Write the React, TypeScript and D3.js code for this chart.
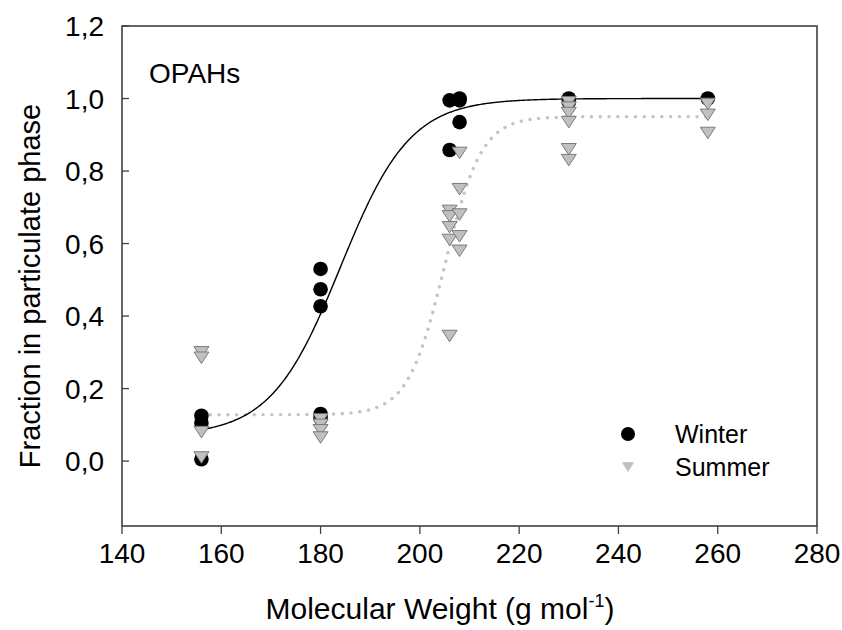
import React from "react";
import * as d3 from "d3";

const winterX = [156, 156, 156, 180, 180, 180, 180, 180, 206, 206, 208, 208, 208, 230, 230, 258];
const winterY = [0.125, 0.105, 0.005, 0.53, 0.474, 0.427, 0.13, 0.118, 0.995, 0.858, 1.0, 0.995, 0.935, 1.0, 0.99, 1.0];

const summerX = [156, 156, 156, 156, 180, 180, 180, 180, 206, 206, 206, 206, 206, 208, 208, 208, 208, 208, 230, 230, 230, 230, 230, 230, 258, 258, 258];
const summerY = [0.3, 0.285, 0.08, 0.01, 0.115, 0.1, 0.085, 0.065, 0.69, 0.675, 0.645, 0.61, 0.345, 0.85, 0.75, 0.68, 0.62, 0.58, 0.99, 0.975, 0.96, 0.935, 0.86, 0.83, 0.985, 0.955, 0.905];

// sigmoid fit parameters: [y0, a, x0, b]
const winterFit = [0.07, 0.93, 184, 7];
const summerFit = [0.128, 0.822, 205, 3.7];
const fitRange = [156, 258];

const xTicks = [140, 160, 180, 200, 220, 240, 260, 280];
const yTicks = [0, 0.2, 0.4, 0.6, 0.8, 1.0, 1.2];

const W = 842, H = 630;
const L = 122, R = 817, T = 26, B = 526;
const FONT = "'Liberation Sans', Arial, sans-serif";

export default function App() {
  const x = d3.scaleLinear().domain([140, 280]).range([L, R]);
  const y = d3.scaleLinear().domain([-0.179, 1.2]).range([B, T]);
  const sig = (p: number[]) => (v: number) => p[0] + p[1] / (1 + Math.exp(-(v - p[2]) / p[3]));
  const xs = d3.range(fitRange[0], fitRange[1] + 0.01, 0.25);
  const line = d3.line<number>().x((d) => x(d));
  const wf = sig(winterFit), sf = sig(summerFit);
  const wPath = line.y((d) => y(wf(d)))(xs) as string;
  const sPath = line.y((d) => y(sf(d)))(xs) as string;
  const fmt = (v: number) => v.toFixed(1).replace(".", ",");
  const tri = (cx: number, cy: number, w: number, h: number) =>
    `M${cx - w / 2},${cy - h / 2}L${cx + w / 2},${cy - h / 2}L${cx},${cy + h / 2}Z`;
  const axisColor = "#404040";
  return (
    <svg width={W} height={H} style={{ position: "absolute", left: 0, top: 0, background: "#fff" }} fontFamily={FONT}>
      {/* curves */}
      <path d={sPath} fill="none" stroke="#c4c4c4" strokeWidth={3.4} strokeDasharray="0.1 8.7" strokeLinecap="round" />
      <path d={wPath} fill="none" stroke="#000" strokeWidth={1.4} />
      {/* winter points */}
      {winterX.map((d, i) => (
        <circle key={"w" + i} cx={x(d)} cy={y(winterY[i])} r={7.3} fill="#000" />
      ))}
      {/* summer points */}
      {summerX.map((d, i) => (
        <path key={"s" + i} d={tri(x(d), y(summerY[i]), 15, 11.5)} fill="#c0c0c0" stroke="#7a7a7a" strokeWidth={1} />
      ))}
      {/* frame */}
      <rect x={L} y={T} width={R - L} height={B - T} fill="none" stroke={axisColor} strokeWidth={1.6} />
      {/* y ticks */}
      {yTicks.map((t) => (
        <g key={"y" + t}>
          <line x1={L} x2={L + 7} y1={y(t)} y2={y(t)} stroke={axisColor} strokeWidth={1.3} />
          <text x={L - 18} y={y(t)} dy="0.36em" textAnchor="end" fontSize={28} fill="#000">{fmt(t)}</text>
        </g>
      ))}
      {/* x ticks */}
      {xTicks.map((t) => (
        <g key={"x" + t}>
          <line x1={x(t)} x2={x(t)} y1={B} y2={B + 8} stroke={axisColor} strokeWidth={1.3} />
          <text x={x(t)} y={B + 37} textAnchor="middle" fontSize={28} fill="#000">{t}</text>
        </g>
      ))}
      {/* axis titles */}
      <text transform={`translate(40,286) rotate(-90)`} textAnchor="middle" fontSize={29} fill="#000">
        Fraction in particulate phase
      </text>
      <text x={440} y={619} textAnchor="middle" fontSize={30} fill="#000">
        Molecular Weight (g mol<tspan dy="-12" fontSize={18}>-1</tspan><tspan dy="12">)</tspan>
      </text>
      {/* panel label */}
      <text x={149} y={83} fontSize={28} fill="#000">OPAHs</text>
      {/* legend */}
      <circle cx={628} cy={434} r={7} fill="#000" />
      <text x={675} y={443} fontSize={25} fill="#000">Winter</text>
      <path d={tri(628, 467, 11, 9)} fill="#c0c0c0" stroke="#c8c8c8" strokeWidth={1} />
      <text x={675} y={476} fontSize={25} fill="#000">Summer</text>
    </svg>
  );
}
